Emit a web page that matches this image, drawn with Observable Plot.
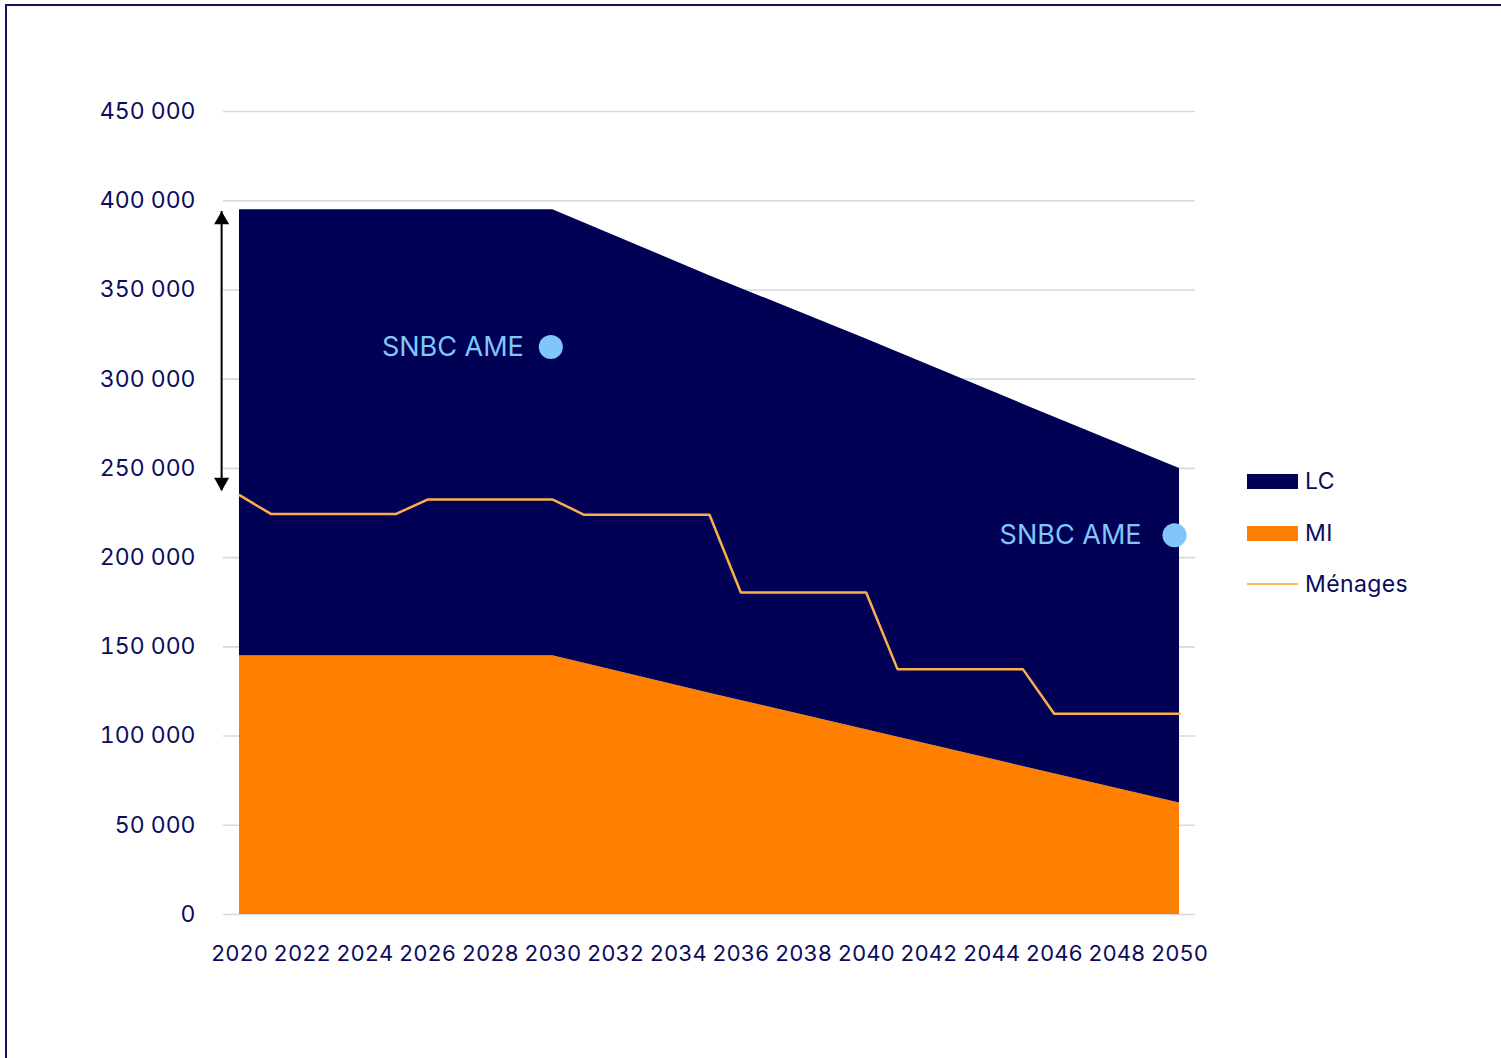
<!DOCTYPE html>
<html>
<head>
<meta charset="utf-8">
<script src="https://cdn.jsdelivr.net/npm/d3@7"></script>
<script src="https://cdn.jsdelivr.net/npm/@observablehq/plot@0.6"></script>
<style>
  html, body { margin: 0; padding: 0; background: #fff; }
  body { width: 1501px; height: 1058px; position: relative; overflow: hidden; font-family: Inter, "Noto Sans", sans-serif; color: #0b0b5c; }
  #frame { position: absolute; left: 5px; top: 4px; width: 1600px; height: 1200px; border: 2px solid #12125f; box-sizing: border-box; }
  #chart { position: absolute; left: 0; top: 0; }
  .leg { position: absolute; display: flex; align-items: center; font-size: 23px; letter-spacing: 0.4px; }
  .sw { width: 51px; height: 15px; margin-right: 7px; }
  .ln { width: 51px; height: 2.5px; margin-right: 7px; }
</style>
</head>
<body>
<div id="frame"></div>
<div id="chart"></div>
<div class="leg" style="left:1247px; top:466px; height:30px;"><div class="sw" style="background:#000055"></div>LC</div>
<div class="leg" style="left:1247px; top:518px; height:30px;"><div class="sw" style="background:#FF8000"></div>MI</div>
<div class="leg" style="left:1247px; top:569px; height:30px;"><div class="ln" style="background:#FFB563"></div>Ménages</div>
<script>
// --- data ---
const years    = [2020, 2030, 2035, 2040, 2045, 2050];
const miValues = [145000, 145000, 124000, 103500, 83000, 62500];
const lcValues = [250000, 250000, 234000, 219000, 203000, 187500];

const menYears  = [2020, 2021, 2025, 2026, 2030, 2031, 2035, 2036, 2040, 2041, 2045, 2046, 2050];
const menValues = [235000, 224500, 224500, 232500, 232500, 224000, 224000, 180500, 180500, 137500, 137500, 112500, 112500];

const annotYears  = [2030, 2050];
const annotValues = [318000, 212500];
const annotLabels = ["SNBC AME", "SNBC AME"];

const arrowYear = 2019.43;
const arrowTop = 394000;
const arrowBottom = 237500;

const xTicks = d3.range(2020, 2051, 2);
const yTicks = d3.range(0, 450001, 50000);

// --- tables ---
const stackRows = [];
years.forEach((y, i) => stackRows.push({year: y, series: "MI", value: miValues[i]}));
years.forEach((y, i) => stackRows.push({year: y, series: "LC", value: lcValues[i]}));
const menRows = menYears.map((y, i) => ({year: y, value: menValues[i]}));
const annots = annotYears.map((y, i) => ({year: y, value: annotValues[i], label: annotLabels[i]}));
const arrow = [{year: arrowYear, top: arrowTop, bottom: arrowBottom}];

const navyText = "#0b0b5c";
const annotColor = "#80C6FA";
const fmt = d => d3.format(",")(d).replace(/,/g, " ");

const chart = Plot.plot({
  width: 1501,
  height: 1058,
  marginTop: 111,
  marginBottom: 144,
  marginLeft: 223,
  marginRight: 306,
  style: {fontFamily: "Inter, 'Noto Sans', sans-serif", color: navyText, background: "transparent", overflow: "visible"},
  x: {domain: [2019.49, 2050.51]},
  y: {domain: [0, 450000]},
  color: {domain: ["LC", "MI"], range: ["#000055", "#FF8000"]},
  marks: [
    Plot.gridY(yTicks, {stroke: "#d9d9d9", strokeOpacity: 1, strokeWidth: 1.6}),
    Plot.areaY(stackRows, {x: "year", y: "value", z: "series", fill: "series", order: ["MI", "LC"]}),
    Plot.line(menRows, {x: "year", y: "value", stroke: "#FFAE4F", strokeWidth: 2.5}),
    Plot.dot([annots[0]], {x: "year", y: "value", r: 12, fill: annotColor, dx: -2}),
    Plot.text([annots[0]], {x: "year", y: "value", text: "label", textAnchor: "end", dx: -29, fill: annotColor, fontSize: 27, letterSpacing: 0.3}),
    Plot.dot([annots[1]], {x: "year", y: "value", r: 12, fill: annotColor, dx: -5}),
    Plot.text([annots[1]], {x: "year", y: "value", text: "label", textAnchor: "end", dx: -38, fill: annotColor, fontSize: 27, letterSpacing: 0.3}),
    Plot.ruleX(arrow, {x: "year", y1: "top", y2: "bottom", stroke: "#000", strokeWidth: 2, clip: false}),
    Plot.dot(arrow, {x: "year", y: "top", symbol: "triangle", r: 5.6, fill: "#000", stroke: null, dy: 8.5}),
    Plot.dot(arrow, {x: "year", y: "bottom", symbol: "triangle", r: 5.6, fill: "#000", stroke: null, rotate: 180, dy: -8.5}),
    Plot.axisY(yTicks, {tickSize: 0, tickPadding: 28, tickFormat: fmt, fontSize: 23, fill: navyText, label: null}),
    Plot.axisX(xTicks, {tickSize: 0, tickPadding: 31, tickFormat: d => String(d), fontSize: 22, fill: navyText, label: null})
  ]
});
document.getElementById("chart").appendChild(chart);
</script>
</body>
</html>
